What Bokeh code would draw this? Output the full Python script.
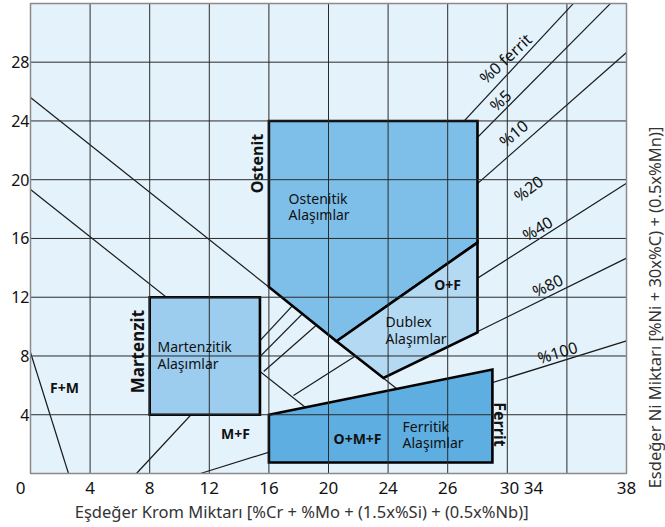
import math
from bokeh.plotting import figure
from bokeh.models import Range1d, Label
from bokeh.embed import file_html
from bokeh.resources import INLINE

# ---------------- data ----------------
x_ticks = [0, 4, 8, 12, 16, 20, 24, 28, 32.95, 40]
x_tick_labels = ["0", "4", "8", "12", "16", "20", "24", "26", "30 34", "38"]
y_ticks = [4, 8, 12, 16, 20, 24, 28]
y_tick_labels = ["4", "8", "12", "16", "20", "24", "28"]
grid_x = [0, 4, 8, 12, 16, 20, 24, 28, 32, 36, 40]
grid_y = [0, 4, 8, 12, 16, 20, 24, 28, 32]

# regions (Cr-eq, Ni-eq)
ost_x = [16.0, 30.0, 30.0, 20.54, 16.0]
ost_y = [24.0, 24.0, 15.72, 9.0, 12.7]
dub_x = [20.54, 30.0, 30.0, 23.69]
dub_y = [9.0, 15.72, 9.6, 6.5]
mar_x = [8.0, 15.4, 15.4, 8.0]
mar_y = [12.0, 12.0, 4.0, 4.0]
fer_x = [16.0, 31.0, 31.0, 16.0]
fer_y = [4.0, 7.08, 0.75, 0.75]

# boundary lines
line_a_x = [0.0, 24.56]; line_a_y = [25.6, 5.79]
line_b_x = [0.0, 18.46]; line_b_y = [19.33, 4.49]
line_c_x = [0.0, 2.55];  line_c_y = [8.24, 0.0]

# ferrite % lines
f0_x = [7.11, 36.44];  f0_y = [0.0, 32.0]
f5_x = [14.95, 38.93]; f5_y = [7.5, 32.0]
f10_x = [15.65, 40.0]; f10_y = [6.94, 28.66]
f40_x = [17.65, 40.0]; f40_y = [5.31, 19.76]
f80_x = [23.69, 40.0]; f80_y = [6.5, 14.66]
f100_x = [11.41, 40.0]; f100_y = [0.0, 9.03]

ferrite_labels = ["%0 ferrit", "%5", "%10", "%20", "%40", "%80", "%100"]
ferrite_lab_x = [31.88, 31.54, 32.42, 33.42, 34.03, 34.7, 35.37]
ferrite_lab_y = [28.25, 25.39, 23.15, 19.4, 16.68, 12.8, 8.24]
ferrite_lab_ang = [43, 43, 40, 36, 31, 26, 17]

FONT = "Noto Sans"
BG = "#e4f2fb"
C_OST = "#7ebfe9"
C_DUB = "#b4daf3"
C_MAR = "#9ccdef"
C_FER = "#5eaee2"
DARK = "#1a1a1a"
GRID = "#2a2a2a"

# frame covers the whole canvas: 14.9 px per Cr unit, 14.69 px per Ni unit
PXX, PXY = 14.9, 14.69
X0 = -30 / PXX
Y1 = 473 / PXY
p = figure(width=665, height=527, output_backend="svg", toolbar_location=None,
           x_axis_type=None, y_axis_type=None,
           x_range=Range1d(X0, X0 + 665 / PXX), y_range=Range1d(Y1 - 527 / PXY, Y1),
           min_border=0, min_border_left=0, min_border_right=0,
           min_border_top=0, min_border_bottom=0)
p.outline_line_color = None
p.background_fill_color = "white"
p.border_fill_color = "white"
p.grid.visible = False

xmin, xmax = grid_x[0], grid_x[-1]
ymin, ymax = grid_y[0], grid_y[-1]

# plot panel background
p.quad(left=[xmin], right=[xmax], bottom=[ymin], top=[ymax],
       fill_color=BG, line_color=None)

# thin lines (drawn first so regions hide parts)
thin = [(line_a_x, line_a_y), (line_b_x, line_b_y), (line_c_x, line_c_y),
        (f0_x, f0_y), (f5_x, f5_y), (f10_x, f10_y), (f40_x, f40_y),
        (f80_x, f80_y), (f100_x, f100_y)]
for xs, ys in thin:
    p.line(xs, ys, line_color=DARK, line_width=1.2)

# regions
for xs, ys, c in [(mar_x, mar_y, C_MAR), (ost_x, ost_y, C_OST),
                  (dub_x, dub_y, C_DUB), (fer_x, fer_y, C_FER)]:
    p.patch(xs, ys, fill_color=c, line_color="black", line_width=2.6, line_join="miter")

# grid lines on top of the regions
gx = grid_x[1:-1]
gy = grid_y[1:-1]
p.segment(x0=gx, y0=[ymin] * len(gx), x1=gx, y1=[ymax] * len(gx),
          line_color=GRID, line_width=1)
p.segment(x0=[xmin] * len(gy), y0=gy, x1=[xmax] * len(gy), y1=gy,
          line_color=GRID, line_width=1)

# panel frame
p.quad(left=[xmin], right=[xmax], bottom=[ymin], top=[ymax],
       fill_color=None, line_color="#8a8a8a", line_width=1.5)

def lab(x, y, text, size="14px", bold=False, angle=0.0, align="left", color="#111111"):
    p.add_layout(Label(x=x, y=y, text=text, text_font=FONT, text_font_size=size,
                       text_font_style="bold" if bold else "normal",
                       angle=angle, text_align=align, text_baseline="middle",
                       text_color=color))

# tick labels
xt_off = -0.67  # corner zero is shifted left of the axis origin
for t, l in zip(x_ticks, x_tick_labels):
    lab(t + (xt_off if t == 0 else 0), -14 / PXY, l, "17px", False, 0, "center")
for t, l in zip(y_ticks, y_tick_labels):
    lab(-1 / PXX, t, l, "16px", False, 0, "right")

# region names
lab(15.23, 21.1, "Ostenit", "16px", True, math.pi / 2, "center")
lab(17.32, 18.72, "Ostenitik", "14px")
lab(17.32, 17.62, "Alaşımlar", "14px")
lab(7.18, 8.3, "Martenzit", "17px", True, math.pi / 2, "center")
lab(8.52, 8.65, "Martenzitik", "14px")
lab(8.52, 7.52, "Alaşımlar", "14px")
lab(2.28, 5.85, "F+M", "14px", True, 0, "center")
lab(13.76, 2.72, "M+F", "14px", True, 0, "center")
lab(21.95, 2.38, "O+M+F", "14px", True, 0, "center")
lab(24.97, 3.2, "Ferritik", "14px")
lab(24.97, 2.08, "Alaşımlar", "14px")
lab(31.54, 3.34, "Ferrit", "16px", True, -math.pi / 2, "center")
lab(23.83, 10.35, "Dublex", "14px")
lab(23.83, 9.2, "Alaşımlar", "14px")
lab(27.99, 12.87, "O+F", "14px", True, 0, "center")

for t, x, y, a in zip(ferrite_labels, ferrite_lab_x, ferrite_lab_y, ferrite_lab_ang):
    lab(x, y, t, "16px", False, math.radians(a), "center")

# axis titles
lab(18.2, -38 / PXY, "Eşdeğer Krom Miktarı [%Cr + %Mo + (1.5x%Si) + (0.5x%Nb)]", "16.5px",
    False, 0, "center", "#333333")
lab(624 / PXX, 11.3, "Esdeğer Ni Miktarı [%Ni + 30x%C) + (0.5x%Mn)]", "16.5px",
    False, math.pi / 2, "center", "#333333")

open("out.html", "w").write(file_html(p, INLINE))
